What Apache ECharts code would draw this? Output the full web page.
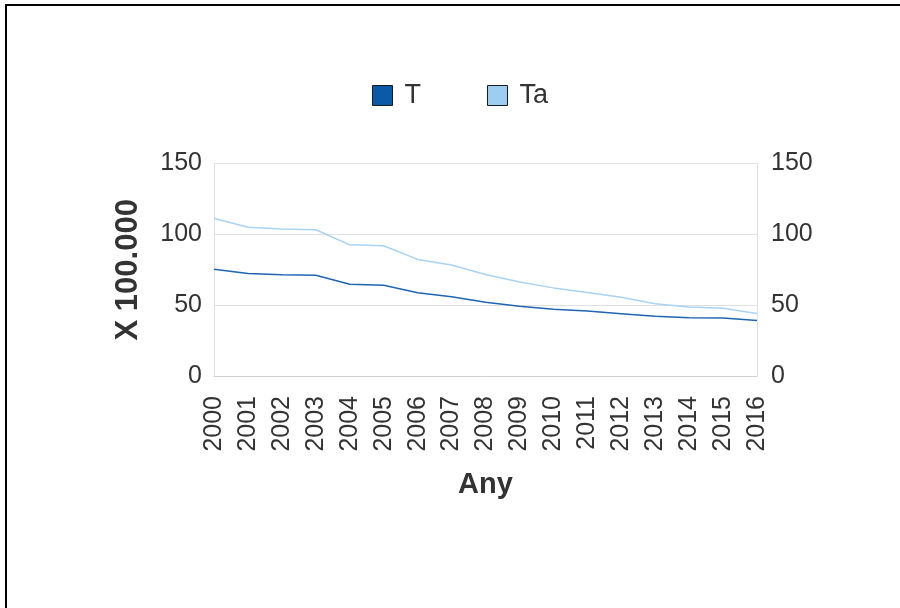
<!DOCTYPE html>
<html>
<head>
<meta charset="utf-8">
<script src="https://cdn.jsdelivr.net/npm/echarts@6/dist/echarts.min.js"></script>
<style>
html,body{margin:0;padding:0;background:#fff;}
#chart{position:absolute;left:0;top:0;width:900px;height:608px;}
#frame{position:absolute;left:5px;top:4px;width:1000px;height:1000px;border-top:2px solid #000;border-left:2px solid #000;pointer-events:none;}
</style>
</head>
<body>
<div id="chart"></div>
<div id="frame"></div>
<script>
const years = ['2000','2001','2002','2003','2004','2005','2006','2007','2008','2009','2010','2011','2012','2013','2014','2015','2016'];
const seriesT = [75.4,72.3,71.5,71.1,64.7,64.0,58.8,55.9,52.0,49.3,47.1,45.8,44.0,42.1,41.1,40.9,39.2];
const seriesTa = [111.3,105.0,103.7,103.2,92.6,91.9,82.3,78.4,71.7,66.4,62.2,59.0,55.6,51.0,48.7,47.8,44.2];
const yTicks = {min:0, max:150, interval:50};
const fontFam = '"Liberation Sans", Arial, sans-serif';

const chart = echarts.init(document.getElementById('chart'));
chart.setOption({
  animation:false,
  textStyle:{fontFamily:fontFam},
  legend:{
    left:367, top:77,
    itemWidth:20, itemHeight:20, itemGap:66,
    icon:'rect',
    textStyle:{fontSize:27, color:'#333', fontFamily:fontFam, padding:[0,0,0,7]},
    data:[
      {name:'T', itemStyle:{color:'#0a5aa8', borderColor:'#1a1a1a', borderWidth:1}},
      {name:'Ta', itemStyle:{color:'#9ecdf2', borderColor:'#1a1a1a', borderWidth:1}}
    ]
  },
  grid:{left:214, right:143, top:163.5, bottom:232},
  xAxis:{
    type:'category', data:years, boundaryGap:false,
    axisLine:{show:true, lineStyle:{color:'#d0d0d0', width:1}},
    axisTick:{show:false},
    axisLabel:{rotate:90, margin:20, fontSize:25, color:'#333', fontFamily:fontFam, interval:0},
    name:'Any', nameLocation:'middle', nameGap:94,
    nameTextStyle:{fontSize:29, fontWeight:'bold', color:'#333', fontFamily:fontFam},
    splitLine:{show:false}
  },
  yAxis:[
    {type:'value', min:yTicks.min, max:yTicks.max, interval:yTicks.interval,
     axisLine:{show:true, lineStyle:{color:'#e0e0e0'}},
     axisTick:{show:false},
     axisLabel:{margin:12, fontSize:25, color:'#333', fontFamily:fontFam},
     splitLine:{show:true, lineStyle:{color:'#e0e0e0', width:1}},
     name:'X 100.000', nameLocation:'middle', nameGap:70, nameRotate:90,
     nameTextStyle:{fontSize:31, fontWeight:'bold', color:'#333', fontFamily:fontFam}
    },
    {type:'value', min:yTicks.min, max:yTicks.max, interval:yTicks.interval, position:'right',
     axisLine:{show:true, lineStyle:{color:'#e0e0e0'}},
     axisTick:{show:false},
     axisLabel:{margin:14, fontSize:25, color:'#333', fontFamily:fontFam},
     splitLine:{show:false}
    }
  ],
  series:[
    {name:'T', type:'line', data:seriesT, symbol:'none', color:'#0a5aa8',
     lineStyle:{color:'#1e66b0', width:1.5}},
    {name:'Ta', type:'line', data:seriesTa, symbol:'none', color:'#9ecdf2',
     lineStyle:{color:'#a9d3f3', width:1.5}}
  ]
});
</script>
</body>
</html>
